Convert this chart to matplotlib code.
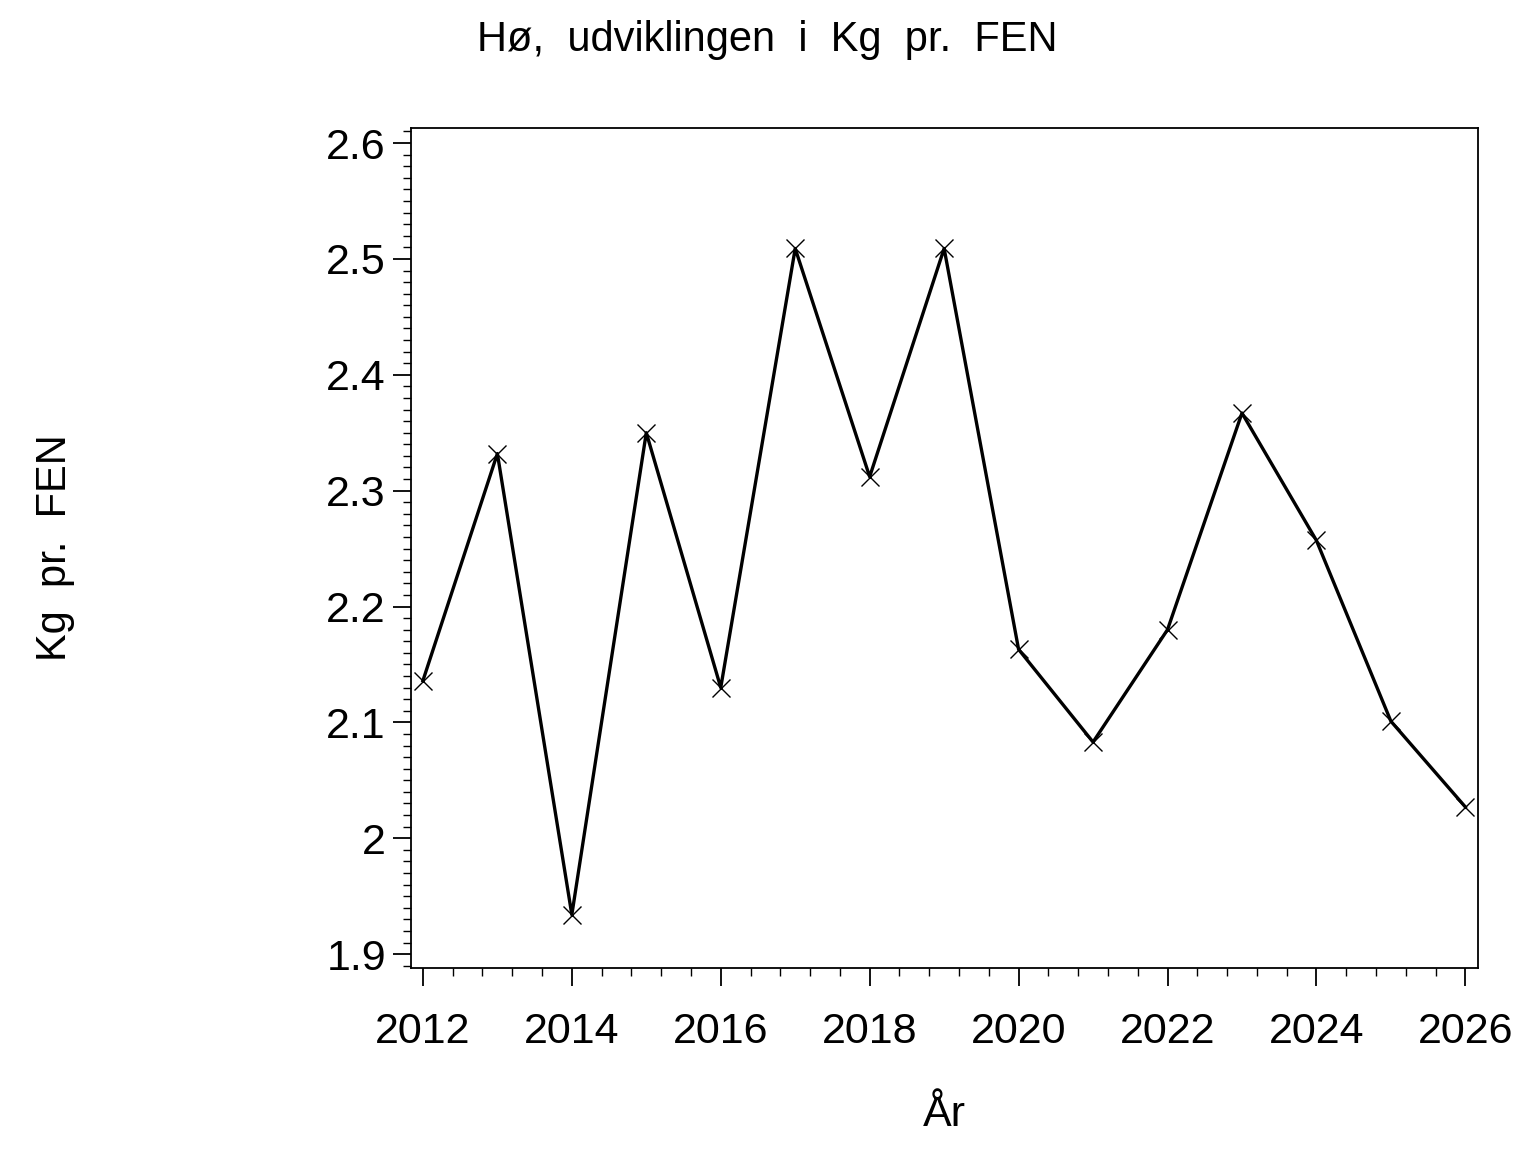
import numpy as np
import matplotlib.pyplot as plt
from matplotlib.ticker import MultipleLocator

plt.rcParams['font.family'] = ['Liberation Sans', 'DejaVu Sans']

years = [2012, 2013, 2014, 2015, 2016, 2017, 2018, 2019,
         2020, 2021, 2022, 2023, 2024, 2025, 2026]
kg_per_fen = [2.136, 2.332, 1.934, 2.350, 2.130, 2.509, 2.312, 2.509,
              2.163, 2.083, 2.180, 2.367, 2.257, 2.101, 2.027]
year_ticks = [2012, 2014, 2016, 2018, 2020, 2022, 2024, 2026]
y_ticks = [1.9, 2.0, 2.1, 2.2, 2.3, 2.4, 2.5, 2.6]
y_labels = ['1.9', '2', '2.1', '2.2', '2.3', '2.4', '2.5', '2.6']

fig = plt.figure(figsize=(15.36, 11.52), dpi=100)
ax = fig.add_axes([411 / 1536, 1 - 968 / 1152, (1478 - 411) / 1536, (968 - 128) / 1152])

ax.plot(years, kg_per_fen, color='black', lw=2.4, marker='x', ms=13, mew=1.0)

ax.set_xlim(2011.84, 2026.17)
ax.set_ylim(1.888, 2.613)
ax.set_xticks(year_ticks)
ax.set_yticks(y_ticks)
ax.set_yticklabels(y_labels)
ax.xaxis.set_minor_locator(MultipleLocator(0.4))
ax.yaxis.set_minor_locator(MultipleLocator(0.01))

ax.tick_params(which='major', length=13, width=1.3, labelsize=31)
ax.tick_params(axis='x', which='major', pad=19)
ax.tick_params(axis='y', which='major', pad=5)
ax.tick_params(which='minor', length=6, width=1.0)
for s in ax.spines.values():
    s.set_linewidth(1.3)

ax.set_xlabel('År', fontsize=31, labelpad=31)
fig.text(55 / 1536, 1 - 548 / 1152, 'Kg  pr.  FEN', rotation=90, fontsize=30,
         ha='center', va='center')
fig.text(767 / 1536, 1 - 40 / 1152, 'Hø,  udviklingen  i  Kg  pr.  FEN', fontsize=30,
         ha='center', va='center')

fig.savefig('out.png', dpi=100)
